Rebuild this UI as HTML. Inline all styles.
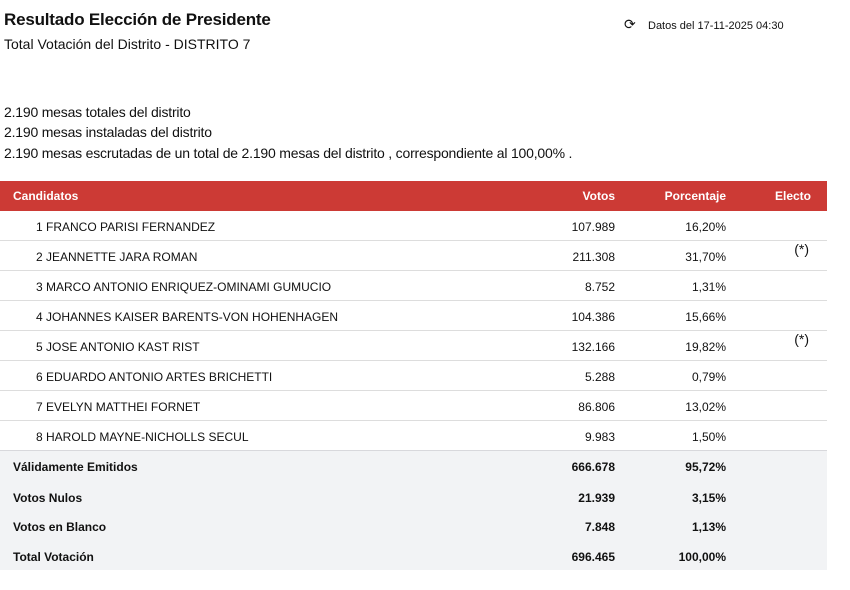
<!DOCTYPE html>
<html><head><meta charset="utf-8"><style>
body{margin:0;width:850px;height:590px;background:#fff;font-family:"Liberation Sans",sans-serif;color:#111;position:relative;overflow:hidden}
.a{position:absolute;white-space:nowrap}
.r{position:absolute;left:0;width:827px;font-size:12px;box-sizing:border-box}
.r span{position:absolute;top:0;white-space:nowrap}
.c{height:30px;line-height:32px;border-bottom:1px solid #ddd}
.s{height:29.5px;line-height:32px;background:#f2f3f5;font-weight:bold}
.h{top:181px;height:30px;line-height:30px;background:#cc3a35;color:#fff;font-weight:bold}
.v{right:212px}.p{right:101px}.e{right:18px;font-size:14px;line-height:16px}
</style></head><body>
<div class="a" style="left:4px;top:10px;font-size:17px;font-weight:bold;letter-spacing:-0.2px">Resultado Elección de Presidente</div>
<div class="a" style="left:4px;top:36px;font-size:14px">Total Votación del Distrito - DISTRITO 7</div>
<div class="a" style="left:624px;top:16px;font-size:14px">⟳</div>
<div class="a" style="left:648px;top:20px;font-size:11px">Datos del 17-11-2025 04:30</div>
<div class="a" style="left:4px;top:104px;font-size:14px;letter-spacing:-0.2px">2.190 mesas totales del distrito</div>
<div class="a" style="left:4px;top:124px;font-size:14px;letter-spacing:-0.2px">2.190 mesas instaladas del distrito</div>
<div class="a" style="left:4px;top:145px;font-size:14px;letter-spacing:-0.2px">2.190 mesas escrutadas de un total de 2.190 mesas del distrito , correspondiente al 100,00% .</div>

<div class="r h"><span style="left:13px">Candidatos</span><span class="v">Votos</span><span class="p">Porcentaje</span><span style="right:16px">Electo</span></div>
<div class="r c" style="top:211px"><span style="left:36px">1 FRANCO PARISI FERNANDEZ</span><span class="v">107.989</span><span class="p">16,20%</span></div>
<div class="r c" style="top:241px"><span style="left:36px">2 JEANNETTE JARA ROMAN</span><span class="v">211.308</span><span class="p">31,70%</span><span class="e">(*)</span></div>
<div class="r c" style="top:271px"><span style="left:36px">3 MARCO ANTONIO ENRIQUEZ-OMINAMI GUMUCIO</span><span class="v">8.752</span><span class="p">1,31%</span></div>
<div class="r c" style="top:301px"><span style="left:36px">4 JOHANNES KAISER BARENTS-VON HOHENHAGEN</span><span class="v">104.386</span><span class="p">15,66%</span></div>
<div class="r c" style="top:331px"><span style="left:36px">5 JOSE ANTONIO KAST RIST</span><span class="v">132.166</span><span class="p">19,82%</span><span class="e">(*)</span></div>
<div class="r c" style="top:361px"><span style="left:36px">6 EDUARDO ANTONIO ARTES BRICHETTI</span><span class="v">5.288</span><span class="p">0,79%</span></div>
<div class="r c" style="top:391px"><span style="left:36px">7 EVELYN MATTHEI FORNET</span><span class="v">86.806</span><span class="p">13,02%</span></div>
<div class="r c" style="top:421px;border-bottom-color:#d8d8dc"><span style="left:36px">8 HAROLD MAYNE-NICHOLLS SECUL</span><span class="v">9.983</span><span class="p">1,50%</span></div>
<div class="r s" style="top:451px;height:30.5px;line-height:33px"><span style="left:13px">Válidamente Emitidos</span><span class="v">666.678</span><span class="p">95,72%</span></div>
<div class="r s" style="top:481.5px"><span style="left:13px">Votos Nulos</span><span class="v">21.939</span><span class="p">3,15%</span></div>
<div class="r s" style="top:511px"><span style="left:13px">Votos en Blanco</span><span class="v">7.848</span><span class="p">1,13%</span></div>
<div class="r s" style="top:540.5px"><span style="left:13px">Total Votación</span><span class="v">696.465</span><span class="p">100,00%</span></div>
</body></html>
